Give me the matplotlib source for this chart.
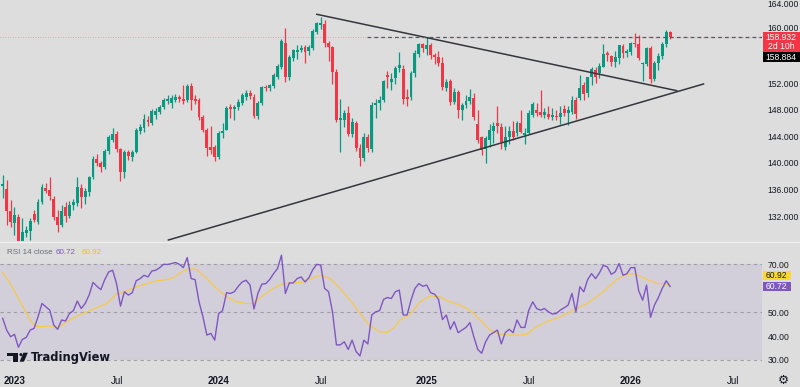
import numpy as np
import pandas as pd
import matplotlib
matplotlib.use("Agg")
import matplotlib.pyplot as plt
from matplotlib.patches import Rectangle, Polygon, Circle
from matplotlib.transforms import ScaledTranslation

plt.rcParams['font.family'] = ['Liberation Sans', 'DejaVu Sans']

# weekly candles, first bar = week of 2022-12-12
first_week = '2022-12-12'

opens = [136.6, 136.1, 132.8, 131.0, 131.9, 127.9, 129.5, 129.8, 132.4, 131.1,
         134.1, 136.3, 135.9, 134.6, 131.9, 130.7, 133.4, 132.0, 133.7, 134.0,
         136.2, 134.9, 135.6, 137.9, 140.6, 140.0, 139.4, 141.8, 143.5, 144.4,
         142.1, 138.6, 141.7, 140.9, 141.7, 144.8, 145.3, 146.5, 146.0, 147.2,
         147.7, 148.4, 149.3, 149.0, 149.5, 149.9, 149.6, 149.5, 151.6, 149.6,
         149.5, 146.9, 145.0, 142.4, 142.4, 140.9, 144.5, 145.0, 148.4, 148.1,
         148.4, 149.0, 149.9, 150.5, 149.9, 147.1, 149.0, 151.4, 151.3, 151.6,
         152.9, 154.4, 158.0, 152.9, 155.8, 156.7, 157.0, 157.4, 156.8, 157.3,
         159.7, 160.8, 160.9, 158.0, 157.4, 153.7, 146.5, 146.5, 147.5, 144.3,
         146.0, 142.3, 140.8, 143.9, 142.1, 148.7, 149.0, 149.5, 153.2, 152.2,
         152.8, 154.3, 154.1, 149.9, 149.9, 153.5, 156.4, 157.9, 157.1, 157.7,
         156.2, 155.9, 155.0, 151.3, 152.3, 149.2, 150.7, 148.0, 148.7, 149.3,
         149.8, 145.8, 143.9, 142.1, 143.5, 144.8, 146.0, 145.4, 142.4, 143.9,
         144.8, 144.5, 146.0, 144.2, 144.5, 147.2, 148.0, 147.7, 147.2, 147.4,
         146.9, 147.1, 146.9, 148.1, 147.5, 147.7, 149.5, 149.7, 151.7, 150.5,
         152.9, 154.0, 153.5, 154.4, 156.5, 156.1, 155.2, 155.8, 157.6, 156.5,
         156.7, 158.0, 157.9, 154.9, 154.9, 157.3, 152.6, 155.0, 156.1, 157.9,
         159.7]
highs = [138.2, 137.4, 134.4, 133.4, 132.3, 131.7, 130.6, 131.7, 132.9, 134.6,
         136.9, 137.0, 137.9, 135.0, 132.9, 133.7, 134.2, 134.3, 134.6, 137.9,
         136.9, 136.2, 138.1, 141.1, 141.4, 140.3, 142.1, 144.2, 145.3, 144.8,
         142.3, 142.0, 142.0, 142.0, 145.3, 145.9, 147.3, 147.0, 148.1, 148.2,
         148.7, 149.7, 150.2, 150.2, 150.3, 150.2, 151.7, 151.9, 152.0, 150.2,
         149.8, 147.2, 145.3, 145.5, 142.7, 144.8, 146.0, 148.6, 148.8, 148.7,
         149.6, 150.6, 151.0, 151.0, 150.3, 149.3, 151.6, 151.8, 151.9, 153.5,
         154.9, 158.6, 160.3, 156.3, 157.2, 157.7, 157.7, 157.8, 157.8, 160.2,
         161.2, 162.0, 161.5, 158.3, 157.6, 154.2, 149.6, 148.0, 148.6, 146.7,
         146.3, 142.9, 144.5, 144.3, 149.1, 149.6, 150.0, 152.5, 153.9, 153.5,
         154.6, 156.7, 154.7, 151.2, 153.9, 157.0, 158.1, 158.1, 158.9, 158.0,
         156.6, 156.8, 155.9, 152.7, 152.6, 151.3, 151.0, 149.0, 150.2, 151.2,
         150.5, 148.0, 144.0, 144.0, 145.9, 146.2, 148.6, 146.0, 145.6, 145.5,
         146.3, 146.3, 148.0, 145.2, 147.9, 149.2, 149.0, 151.0, 148.3, 148.5,
         148.2, 148.0, 148.5, 148.7, 148.5, 150.0, 149.9, 153.2, 152.2, 153.0,
         154.5, 154.5, 155.0, 157.9, 156.9, 156.3, 156.9, 157.8, 157.9, 157.2,
         158.2, 159.5, 159.2, 155.2, 157.5, 157.6, 155.4, 156.5, 158.2, 160.0,
         159.9]
lows = [134.7, 130.7, 130.4, 129.2, 127.2, 127.3, 128.8, 128.4, 131.1, 130.8,
        133.8, 135.5, 134.4, 131.5, 129.6, 130.4, 131.2, 131.7, 132.9, 133.6,
        133.3, 133.9, 135.0, 137.6, 139.5, 138.7, 139.1, 141.4, 143.2, 141.7,
        137.3, 137.7, 140.4, 140.3, 141.5, 144.4, 144.7, 145.6, 145.7, 146.6,
        147.4, 148.1, 148.9, 148.3, 149.1, 149.2, 148.9, 149.2, 148.0, 148.8,
        146.5, 144.6, 141.0, 141.4, 140.3, 140.6, 143.7, 144.9, 146.8, 146.5,
        147.9, 148.7, 149.5, 149.6, 146.7, 146.6, 148.7, 150.9, 150.8, 151.3,
        152.6, 154.1, 152.2, 152.5, 155.4, 155.6, 156.7, 155.0, 156.3, 157.0,
        159.4, 160.2, 157.5, 155.3, 151.9, 146.2, 141.7, 145.4, 144.0, 143.9,
        141.8, 139.6, 140.3, 141.7, 141.7, 146.8, 148.0, 149.2, 151.3, 151.0,
        151.9, 153.7, 148.8, 148.6, 149.5, 153.0, 156.0, 156.7, 156.3, 155.6,
        154.9, 154.6, 151.0, 150.9, 148.7, 148.8, 146.8, 146.5, 148.2, 148.9,
        146.5, 143.0, 141.2, 140.0, 142.4, 143.0, 144.5, 142.1, 142.0, 142.8,
        143.5, 144.0, 144.5, 142.8, 144.3, 146.9, 147.0, 146.9, 146.8, 146.6,
        146.5, 146.5, 145.9, 147.0, 145.7, 147.4, 146.6, 149.4, 149.4, 149.9,
        151.7, 152.0, 152.8, 154.4, 155.3, 154.6, 154.4, 154.9, 155.8, 156.0,
        156.3, 157.4, 155.5, 152.3, 154.6, 152.1, 152.3, 154.0, 155.7, 157.5,
        158.6]
closes = [136.8, 132.8, 131.1, 132.2, 127.9, 129.6, 129.9, 131.3, 131.5, 134.1,
          136.4, 135.8, 135.0, 131.9, 130.7, 132.8, 132.0, 133.7, 134.1, 136.4,
          134.9, 135.8, 137.9, 140.6, 140.0, 139.4, 141.8, 143.9, 144.4, 142.1,
          138.6, 141.7, 141.1, 141.7, 145.0, 145.4, 146.6, 146.2, 147.8, 147.8,
          148.4, 149.5, 149.6, 149.8, 149.9, 149.6, 149.3, 151.6, 149.5, 149.3,
          146.9, 145.0, 142.3, 142.0, 140.9, 144.5, 144.8, 148.3, 148.1, 148.4,
          149.2, 150.2, 150.5, 150.1, 147.1, 149.0, 151.4, 151.3, 151.7, 153.2,
          154.6, 158.4, 152.9, 155.9, 157.0, 157.0, 157.3, 156.7, 157.4, 159.9,
          161.0, 161.1, 158.0, 157.4, 153.7, 146.5, 146.8, 147.5, 144.3, 146.2,
          142.3, 140.8, 143.9, 142.3, 148.7, 149.0, 149.5, 152.3, 152.9, 152.6,
          154.3, 154.7, 149.6, 149.6, 153.5, 156.5, 157.9, 157.3, 157.7, 156.2,
          155.9, 155.0, 151.4, 152.2, 149.2, 150.7, 148.0, 148.7, 149.3, 149.9,
          146.9, 143.5, 142.0, 143.8, 145.0, 145.6, 145.6, 143.2, 143.9, 144.8,
          143.9, 146.0, 144.7, 144.5, 147.5, 148.9, 147.5, 147.2, 147.7, 146.9,
          147.2, 146.9, 147.5, 147.5, 148.0, 149.5, 147.4, 151.3, 150.4, 152.9,
          154.1, 153.0, 154.6, 156.4, 156.2, 155.2, 155.9, 157.7, 156.5, 156.9,
          158.0, 157.9, 155.8, 155.0, 157.3, 152.6, 155.0, 156.1, 157.9, 159.7,
          158.932]

# RSI(14) per bar and its yellow moving average (read at points along the line)
rsi = [47.4, 42.5, 39.7, 40.7, 35.3, 38.6, 39.4, 42.5, 43.2, 48.1,
       53.6, 52.2, 50.8, 44.6, 42.8, 46.7, 46.3, 49.4, 50.6, 54.6,
       51.5, 53.6, 57.1, 62.4, 60.8, 59.4, 63.6, 66.8, 67.5, 61.9,
       52.5, 58.5, 57.1, 58.1, 63.1, 64.0, 65.4, 64.7, 67.2, 67.5,
       68.6, 70.0, 69.9, 70.3, 70.7, 70.0, 68.6, 72.8, 64.0, 63.6,
       54.3, 48.1, 40.4, 41.1, 38.3, 49.4, 50.6, 58.1, 57.8, 58.5,
       60.8, 62.6, 63.3, 61.3, 51.3, 57.8, 61.7, 61.9, 63.6, 66.1,
       68.2, 73.8, 57.8, 62.2, 62.2, 64.0, 64.7, 62.6, 64.4, 67.8,
       70.0, 69.6, 59.9, 58.5, 50.1, 36.3, 36.3, 37.6, 34.4, 38.3,
       33.5, 31.7, 38.3, 36.7, 48.8, 50.1, 50.6, 55.3, 56.1, 55.7,
       58.5, 59.2, 48.8, 48.8, 55.0, 59.9, 61.9, 60.8, 61.3, 58.1,
       57.5, 55.3, 46.9, 48.8, 42.8, 46.0, 41.4, 42.5, 43.6, 45.6,
       39.7, 34.4, 32.8, 37.6, 40.4, 41.4, 42.5, 36.7, 41.4, 42.8,
       41.4, 46.7, 43.6, 43.6, 50.8, 54.3, 51.5, 50.8, 51.5, 50.1,
       49.2, 49.4, 50.8, 51.8, 52.9, 57.8, 50.1, 60.6, 58.5, 63.6,
       66.1, 64.0, 66.4, 69.6, 68.9, 65.8, 66.8, 70.3, 65.4, 66.1,
       68.6, 68.6, 58.9, 55.0, 61.3, 47.8, 52.9, 56.1, 59.9, 63.1,
       60.72]
ma_bar = [0, 1.9, 4.4, 7.0, 8.2, 9.5, 12.0, 14.2, 16.3, 18.8, 21.4, 23.9, 26.5,
          29.0, 31.6, 34.1, 36.7, 39.2, 41.8, 43.5, 45.6, 47.7, 49.4, 52.0, 54.5,
          57.0, 59.6, 62.1, 63.8, 66.4, 68.9, 71.5, 74.0, 76.6, 79.1, 81.2, 83.4,
          85.9, 88.5, 91.0, 93.6, 96.1, 97.8, 99.5, 101.2, 103.7, 106.3, 108.8,
          111.4, 113.9, 116.5, 119.0, 121.6, 124.1, 126.7, 129.2, 131.8, 133.5,
          136.0, 138.6, 141.1, 143.7, 146.2, 148.8, 151.3, 153.9, 156.4, 159.0,
          160.6, 162.3, 164.9, 167.0, 168.7, 170.0]
ma_val = [66.5, 62.0, 54.5, 46.7, 44.2, 43.9, 44.2, 43.6, 46.0, 48.3, 50.1, 51.8, 53.6,
          57.5, 58.9, 60.6, 61.9, 63.1, 63.6, 64.4, 66.8, 68.2, 67.8, 64.0, 59.9,
          56.4, 54.3, 53.6, 53.6, 57.1, 59.9, 61.9, 62.2, 62.6, 64.4, 65.4, 64.0,
          59.9, 55.0, 49.4, 44.2, 41.8, 41.4, 43.2, 46.7, 48.8, 54.3, 56.7,
          56.4, 54.3, 52.9, 50.8, 46.7, 42.5, 40.8, 40.4, 40.4, 40.8,
          43.9, 46.0, 47.4, 49.4, 51.5, 53.6, 56.4, 59.9, 63.6, 65.7,
          66.1, 65.0, 63.1, 61.9, 61.9, 60.92]

# drawings: two trendlines (bar, price) and a horizontal level
upper_line = [(80.0, 162.36), (171.7, 150.87)]
lower_line = [(42.2, 128.42), (178.5, 151.88)]
level_price = 158.95
level_from = 92.8

tick_dates = ['2023-01-02', '2023-07-03', '2024-01-01', '2024-07-01',
              '2025-01-06', '2025-07-07', '2026-01-05', '2026-07-06']
tick_text = ['2023', 'Jul', '2024', 'Jul', '2025', 'Jul', '2026', 'Jul']

price_ticks = [132, 136, 140, 144, 148, 152, 160, 164]   # 156 sits under the price tags
rsi_ticks = [30, 40, 50, 70]

last_price = '158.932'
countdown = '2d 10h'
second_price = '158.884'
rsi_last = '60.72'
ma_last = '60.92'

BG = '#dddddd'
GREEN = '#089981'
RED = '#f23645'
TXT = '#131722'
PURPLE = '#7e57c2'
YELLOW = '#f7c948'
LBL = 6.2

W, H = 800, 387
fig = plt.figure(figsize=(W / 100, H / 100), dpi=100, facecolor=BG)

def box(l, t, r, b):
    return [l / W, 1 - b / H, (r - l) / W, (b - t) / H]

ax = fig.add_axes(box(0, 0, 762, 241))
ar = fig.add_axes(box(0, 242, 762, 370))
for a in (ax, ar):
    a.set_facecolor(BG)
    for s in a.spines.values():
        s.set_visible(False)
    a.set_xlim(-0.69, 193.4)

o = np.array(opens); h = np.array(highs); l = np.array(lows); c = np.array(closes)
xs = np.arange(len(c))
col = np.where(c >= o, GREEN, RED)
ax.vlines(xs, l, h, colors=col, lw=0.9, zorder=2)
ax.bar(xs, np.maximum(np.abs(c - o), 0.13), bottom=np.minimum(o, c), width=0.74,
       color=col, lw=0, zorder=3)

for line in (upper_line, lower_line):
    ax.plot([p[0] for p in line], [p[1] for p in line], color='#34363d', lw=1.1, zorder=4)
ax.hlines(level_price, level_from, 193.4, colors='#55575f', lw=0.9,
          linestyles=(0, (3, 2.5)), zorder=4)
ax.axhline(c[-1], color=RED, lw=0.6, alpha=0.45, ls=(0, (1, 2)), zorder=1)

ax.set_ylim(128.27, 164.51)
ax.yaxis.tick_right()
ax.set_yticks(price_ticks)
ax.set_yticklabels([f'{v:.3f}' for v in price_ticks])
ax.tick_params(axis='y', length=0, pad=4, labelsize=LBL, labelcolor=TXT)
ax.tick_params(axis='x', bottom=False, labelbottom=False)
# 160.000 sits just above the red price tag
for t in ax.get_yticklabels():
    if t.get_text() == '160.000':
        t.set_transform(t.get_transform() + ScaledTranslation(0, 0.022, fig.dpi_scale_trans))

# RSI pane
ar.axhspan(30, 70, color=PURPLE, alpha=0.1, lw=0)
for lv in (70, 50, 30):
    ar.axhline(lv, color='#787b86', lw=0.8, alpha=0.6, ls=(0, (3, 3)))
ar.plot(xs, rsi, color=PURPLE, lw=1.0, zorder=3)
ar.plot(ma_bar, ma_val, color=YELLOW, lw=0.9, zorder=2)
ar.set_ylim(25.8, 79.3)
ar.yaxis.tick_right()
ar.set_yticks(rsi_ticks)
ar.set_yticklabels([f'{v:.2f}' for v in rsi_ticks])
ar.tick_params(axis='y', length=0, pad=4, labelsize=LBL, labelcolor=TXT)

start = pd.Timestamp(first_week)
tpos = [(pd.Timestamp(d) - start).days / 7 for d in tick_dates]
ar.set_xticks(tpos)
ar.set_xticklabels(tick_text)
ar.tick_params(axis='x', length=0, pad=4, labelsize=7, labelcolor=TXT)
for t in ar.get_xticklabels():
    if t.get_text() != 'Jul':
        t.set_fontweight('bold')

# overlay in pixel coords for tags / watermark
deco = fig.add_axes([0, 0, 1, 1], zorder=10)
deco.set_xlim(0, W); deco.set_ylim(H, 0)
deco.axis('off')
deco.patch.set_alpha(0)

def py(a, v):
    return H - a.transData.transform((0, v))[1]

deco.plot([0, W], [241.5, 241.5], color='#efefef', lw=1)

yp = py(ax, c[-1])
deco.add_patch(Rectangle((762.5, yp - 4.6), 40, 19.9, color=RED, lw=0))
deco.text(781, yp, last_price, color='white', fontsize=LBL, ha='center', va='center')
deco.text(781, yp + 9.8, countdown, color='white', fontsize=LBL, ha='center', va='center')
deco.add_patch(Rectangle((762.5, yp + 15.3), 40, 9.4, color='#000000', lw=0))
deco.text(781, yp + 20, second_price, color='white', fontsize=LBL, ha='center', va='center')

yr = py(ar, rsi[-1])
deco.add_patch(Rectangle((762.7, yr - 4.7), 28, 9.4, color=PURPLE, lw=0))
deco.text(776.7, yr, rsi_last, color='white', fontsize=LBL, ha='center', va='center')
deco.add_patch(Rectangle((762.7, yr - 15.3), 28, 9.2, color='#fdd835', lw=0))
deco.text(776.7, yr - 10.7, ma_last, color=TXT, fontsize=LBL, ha='center', va='center')

deco.text(7, 252, 'RSI 14 close', color='#6a6d78', fontsize=5.8, va='center')
deco.text(56, 252, rsi_last, color=PURPLE, fontsize=5.8, va='center')
deco.text(82, 252, ma_last, color='#e8c21c', fontsize=5.8, va='center')

# TradingView watermark
deco.add_patch(Polygon([(7.3, 352.7), (18.3, 352.7), (18.3, 361.7), (13.3, 361.7),
                        (13.3, 355.9), (7.3, 355.9)], closed=True, color=TXT, lw=0))
deco.add_patch(Circle((20.9, 354.6), 1.5, color=TXT, lw=0))
deco.add_patch(Polygon([(19.6, 361.7), (24.0, 361.7), (27.8, 352.7), (23.4, 352.7)],
                       closed=True, color=TXT, lw=0))
deco.text(31, 361.3, 'TradingView', color=TXT, fontsize=8.3, fontweight='bold',
          family='DejaVu Sans', va='baseline')

deco.text(783, 380, '\u2699', color=TXT, fontsize=9, ha='center', va='center',
          family='DejaVu Sans')

fig.savefig('out.png', dpi=100, facecolor=BG)
